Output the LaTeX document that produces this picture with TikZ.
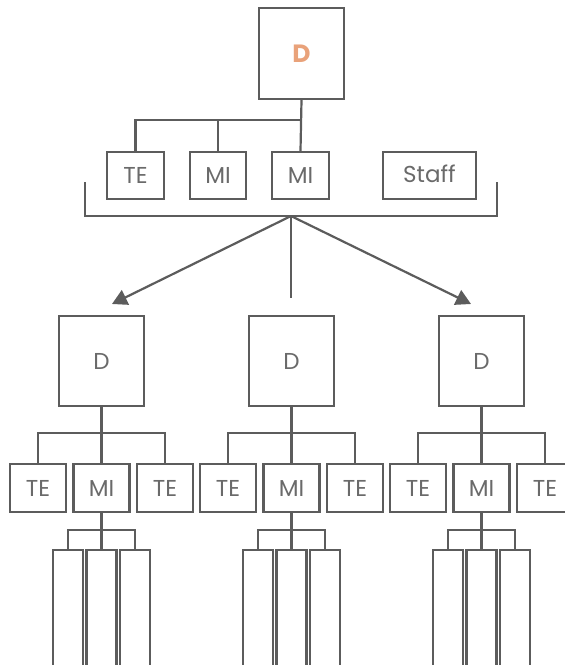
\documentclass[tikz,border=0pt]{standalone}
\usepackage{fontspec}
\setsansfont{Poppins}
\usetikzlibrary{calc,arrows.meta}
\definecolor{linegray}{HTML}{5C5C5C}
\definecolor{textgray}{HTML}{6A6A6A}
\definecolor{headorange}{HTML}{E9A27A}
\tikzset{
  box/.style={draw=linegray,line width=2.2pt,inner sep=0pt,text=textgray,
    font=\sffamily\fontsize{23}{23}\selectfont},
  headbox/.style={box,minimum width=85pt,minimum height=90pt},
  smallbox/.style={box,minimum width=56pt,minimum height=47pt},
  tallbox/.style={box,minimum width=30pt,minimum height=150pt},
  link/.style={draw=linegray,line width=2.2pt},
  spread/.style={link,-{Triangle[length=15pt,width=16pt]}}
}

\begin{document}
\begin{tikzpicture}[x=1pt,y=-1pt]
        \useasboundingbox (0,0) rectangle (565,665);
        \clip (0,0) rectangle (565,665);
        % top office
        \node[headbox,minimum height=91pt,text=headorange,font=\sffamily\bfseries\fontsize{25}{25}\selectfont] (D) at (301.5,53.5) {D};
        \node[smallbox,minimum width=57pt] (TE) at (135.5,175.5) {TE};
        \node[smallbox] (MIa) at (218,175.5) {MI};
        \node[smallbox,minimum width=57pt] (MIb) at (300.5,175.5) {MI};
        \node[smallbox,minimum width=93pt] (Staff) at (429.5,175.5) {\raisebox{3pt}{Staff}};
        \coordinate (tj) at (300.5,120);
        \draw[link] (D.south) -- (MIb.north);
        \draw[link] (TE.north) |- (tj);
        \draw[link] (MIa.north) -- (MIa.north |- tj);
        % bracket
        \coordinate (bl) at (85,182);
        \coordinate (br) at (497,182);
        \coordinate (apex) at (291,216);
        \draw[link] (bl) |- (apex) -| (br);
        \coordinate (tipL) at (112,304);
        \coordinate (tipR) at (471,304);
        \coordinate (mid) at (291,298);
        \draw[spread] (apex) -- (tipL);
        \draw[spread] (apex) -- (tipR);
        \draw[link] (apex) -- (mid);
        % three units
        \foreach \i/\cx in {1/101.5,2/291.5,3/481.5}{
            \node[headbox] (D\i) at (\cx,361) {D};
            \node[smallbox,minimum height=48pt] (TEl\i) at (\cx-63.5,488) {TE};
            \node[smallbox,minimum height=48pt] (MI\i) at (\cx,488) {MI};
            \node[smallbox,minimum height=48pt] (TEr\i) at (\cx+63.5,488) {TE};
            \coordinate (j\i) at (\cx,433);
            \draw[link] (D\i.south) -- (MI\i.north);
            \draw[link] (TEl\i.north) |- (j\i) -| (TEr\i.north);
            \node[tallbox] (Sa\i) at (\cx-33.5,625) {};
            \node[tallbox] (Sb\i) at (\cx,625) {};
            \node[tallbox] (Sc\i) at (\cx+33.5,625) {};
            \coordinate (k\i) at (\cx,530);
            \draw[link] (MI\i.south) -- (Sb\i.north);
            \draw[link] (Sa\i.north) |- (k\i) -| (Sc\i.north);
        }
\end{tikzpicture}
\end{document}
